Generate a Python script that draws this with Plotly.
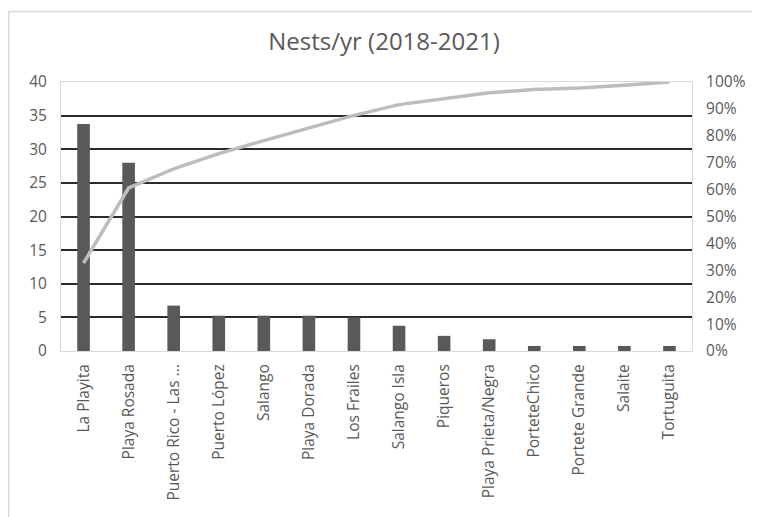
import plotly.graph_objects as go

categories = ["La Playita", "Playa Rosada", "Puerto Rico - Las ...", "Puerto López", "Salango",
              "Playa Dorada", "Los Frailes", "Salango Isla", "Piqueros", "Playa Prieta/Negra",
              "PorteteChico", "Portete Grande", "Salaite", "Tortuguita"]
nests_per_year = [33.75, 28, 6.75, 5.25, 5.25, 5.25, 5, 3.75, 2.25, 1.75, 0.75, 0.75, 0.75, 0.75]
cumulative_pct = [32.7, 60.6, 67.7, 73.4, 78.2, 83.0, 87.6, 91.6, 93.9, 96.0, 97.2, 97.8, 98.8, 100.0]

left_ticks = list(range(0, 41, 5))
right_ticks = list(range(0, 101, 10))
right_labels = [f"{v}%" for v in right_ticks]

FONT = "Open Sans"
GREY = "#595959"
OFF = 8  # page offset of the figure in the browser

fig = go.Figure()
fig.add_trace(go.Bar(x=categories, y=nests_per_year, marker=dict(color="#595959", line=dict(width=0)),
                     yaxis="y", showlegend=False))
fig.add_trace(go.Scatter(x=categories, y=cumulative_pct, mode="lines",
                         line=dict(color="#BDBDBD", width=3.5), yaxis="y2", showlegend=False))

W, H = 760 - OFF, 517 - OFF
L, R, T, B = 61 - OFF, 692 - OFF, 82 - OFF, 351 - OFF
def px(x):
    return (x - L) / (R - L)
def py(y):
    return (B - y) / (B - T)

fig.update_layout(
    width=W, height=H,
    margin=dict(l=L, r=W - R, t=T, b=H - B),
    paper_bgcolor="white", plot_bgcolor="white",
    bargap=0.72,
    font=dict(family=FONT, color=GREY, size=15.5),
    title=dict(text="Nests/yr (2018-2021)", x=0.5, xanchor="center", y=1 - (42 - OFF) / H, yanchor="middle",
               font=dict(family=FONT, size=24, color=GREY)),
    xaxis=dict(tickangle=-90, showgrid=False, showline=True, linecolor="#D9D9D9", linewidth=1,
               ticks="", ticklabelstandoff=6, tickfont=dict(size=15.5, color=GREY), mirror=True),
    yaxis=dict(range=[0, 40], tickvals=left_ticks, showgrid=True, gridcolor="#2b2b2b", gridwidth=1.5,
               zeroline=False, showline=True, linecolor="#D9D9D9", linewidth=1, ticks="",
               ticklabelstandoff=10, tickfont=dict(size=15.5, color=GREY)),
    yaxis2=dict(range=[0, 100], tickvals=right_ticks, ticktext=right_labels, overlaying="y", side="right",
                showgrid=False, zeroline=False, showline=True, linecolor="#D9D9D9", linewidth=1, ticks="",
                ticklabelstandoff=10, tickfont=dict(size=15.5, color=GREY)),
    shapes=[
        dict(type="line", xref="paper", yref="paper", x0=px(0.75), x1=px(W + 2), y0=py(11.5 - OFF), y1=py(11.5 - OFF),
             line=dict(color="#D9D9D9", width=1.5)),
        dict(type="line", xref="paper", yref="paper", x0=px(0.75), x1=px(0.75), y0=py(11.5 - OFF), y1=py(H + 2),
             line=dict(color="#D9D9D9", width=1.5)),
    ],
)

fig.write_html("out.html")
